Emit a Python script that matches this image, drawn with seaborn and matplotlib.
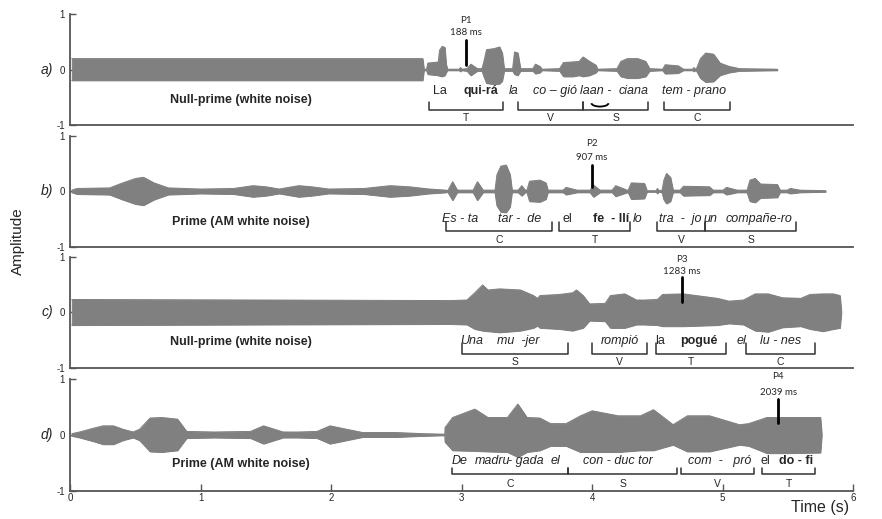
import matplotlib.pyplot as plt
import seaborn as sns
import pandas as pd
from matplotlib.patches import Arc

a_time = [0.01, 2.70, 2.71, 2.73, 2.74, 2.82, 2.83, 2.85, 2.87, 2.88, 2.89, 2.98, 2.99, 3.00,
          3.04, 3.07, 3.12, 3.155, 3.17, 3.19, 3.25, 3.29, 3.31, 3.325, 3.39, 3.405, 3.43, 3.45,
          3.545, 3.565, 3.60, 3.615, 3.75, 3.78, 3.85, 3.90, 3.93, 3.98, 4.03, 4.04,
          4.19, 4.22, 4.27, 4.35, 4.41, 4.44, 4.54, 4.56, 4.66, 4.70, 4.77, 4.78, 4.79,
          4.80, 4.83, 4.87, 4.93, 4.98, 5.05, 5.13, 5.42]
a_upper = [0.20, 0.20, 0.01, 0.01, 0.12, 0.14, 0.35, 0.42, 0.40, 0.10, 0.01, 0.01, 0.04, 0.01,
           0.02, 0.10, 0.02, 0.02, 0.15, 0.36, 0.38, 0.41, 0.30, 0.02, 0.02, 0.32, 0.30, 0.02,
           0.02, 0.10, 0.06, 0.01, 0.02, 0.13, 0.14, 0.15, 0.23, 0.15, 0.08, 0.01,
           0.02, 0.15, 0.20, 0.20, 0.15, 0.02, 0.01, 0.09, 0.07, 0.01, 0.01, 0.04, 0.01,
           0.02, 0.20, 0.30, 0.28, 0.12, 0.06, 0.02, 0.01]
a_lower = [-0.19, -0.19, -0.01, -0.01, -0.08, -0.10, -0.11, -0.12, -0.10, -0.05, -0.01, -0.01, -0.03, -0.01,
           -0.02, -0.10, -0.02, -0.02, -0.12, -0.24, -0.26, -0.25, -0.20, -0.02, -0.02, -0.08, -0.10, -0.02,
           -0.02, -0.07, -0.05, -0.01, -0.02, -0.12, -0.12, -0.10, -0.12, -0.10, -0.05, -0.01,
           -0.02, -0.12, -0.15, -0.15, -0.12, -0.02, -0.01, -0.07, -0.06, -0.01, -0.01, -0.03, -0.01,
           -0.02, -0.15, -0.22, -0.21, -0.10, -0.05, -0.02, -0.01]

b_time = [0.01, 0.05, 0.30, 0.40, 0.50, 0.56, 0.64, 0.75, 1.00, 1.25, 1.40, 1.50, 1.60, 1.75,
          1.85, 1.98, 2.25, 2.45, 2.60, 2.75, 2.88, 2.89,
          2.895, 2.93, 2.965, 3.087, 3.12, 3.163, 3.255, 3.27, 3.30, 3.34, 3.37, 3.385,
          3.432, 3.46, 3.486, 3.50, 3.52, 3.60, 3.645, 3.66, 3.777, 3.80, 3.884,
          3.984, 4.01, 4.06, 4.153, 4.18, 4.268, 4.276, 4.30, 4.40, 4.42, 4.49, 4.50, 4.51,
          4.536, 4.55, 4.57, 4.60, 4.62, 4.674, 4.70, 4.90, 4.927, 5.004, 5.03, 5.111,
          5.188, 5.21, 5.25, 5.29, 5.42, 5.44, 5.494, 5.52, 5.594, 5.79]
b_upper = [0.02, 0.05, 0.06, 0.15, 0.23, 0.25, 0.15, 0.06, 0.04, 0.05, 0.10, 0.08, 0.04, 0.10,
           0.08, 0.04, 0.05, 0.10, 0.08, 0.04, 0.02, 0.01,
           0.02, 0.17, 0.02, 0.02, 0.17, 0.02, 0.02, 0.30, 0.45, 0.47, 0.30, 0.02,
           0.02, 0.10, 0.02, 0.02, 0.18, 0.20, 0.15, 0.02, 0.02, 0.07, 0.02,
           0.02, 0.11, 0.02, 0.02, 0.10, 0.02, 0.02, 0.15, 0.14, 0.01, 0.01, 0.05, 0.01,
           0.02, 0.20, 0.32, 0.25, 0.02, 0.02, 0.09, 0.08, 0.02, 0.02, 0.07, 0.02,
           0.02, 0.20, 0.23, 0.13, 0.12, 0.02, 0.02, 0.05, 0.02, 0.01]
b_lower = [-0.02, -0.05, -0.06, -0.15, -0.23, -0.25, -0.15, -0.06, -0.04, -0.05, -0.10, -0.08, -0.04, -0.10,
           -0.08, -0.04, -0.05, -0.10, -0.08, -0.04, -0.02, -0.01,
           -0.02, -0.16, -0.02, -0.02, -0.16, -0.02, -0.02, -0.26, -0.37, -0.38, -0.28, -0.02,
           -0.02, -0.08, -0.02, -0.02, -0.18, -0.19, -0.14, -0.02, -0.02, -0.06, -0.02,
           -0.02, -0.10, -0.02, -0.02, -0.09, -0.02, -0.02, -0.14, -0.13, -0.01, -0.01, -0.04, -0.01,
           -0.02, -0.15, -0.22, -0.18, -0.02, -0.02, -0.08, -0.07, -0.02, -0.02, -0.06, -0.02,
           -0.02, -0.18, -0.20, -0.12, -0.11, -0.02, -0.02, -0.04, -0.02, -0.01]

c_time = [0.01, 2.91, 3.04, 3.10, 3.16, 3.20, 3.29, 3.45, 3.55, 3.58, 3.60, 3.75, 3.85, 3.88, 3.93,
          3.98, 4.10, 4.14, 4.25, 4.34, 4.40, 4.50, 4.54, 4.70, 4.96, 5.05, 5.16, 5.25, 5.35, 5.46,
          5.60, 5.67, 5.77, 5.85, 5.90, 5.91]
c_upper = [0.23, 0.21, 0.22, 0.35, 0.49, 0.40, 0.42, 0.40, 0.30, 0.25, 0.30, 0.32, 0.35, 0.40, 0.30,
           0.15, 0.16, 0.30, 0.33, 0.22, 0.22, 0.23, 0.32, 0.33, 0.25, 0.20, 0.22, 0.33, 0.33, 0.26,
           0.25, 0.32, 0.33, 0.33, 0.30, 0.02]
c_lower = [-0.23, -0.21, -0.22, -0.30, -0.33, -0.34, -0.36, -0.33, -0.28, -0.24, -0.28, -0.30, -0.33, -0.31, -0.28,
           -0.15, -0.16, -0.28, -0.28, -0.22, -0.22, -0.23, -0.25, -0.25, -0.23, -0.20, -0.22, -0.33, -0.35, -0.27,
           -0.25, -0.30, -0.34, -0.30, -0.28, -0.02]

d_time = [0.01, 0.07, 0.18, 0.25, 0.33, 0.40, 0.48, 0.53, 0.61, 0.70, 0.82, 0.89, 1.10, 1.38, 1.48,
          1.63, 1.75, 1.89, 1.99, 2.24, 2.50, 2.70, 2.87,
          2.872, 2.93, 3.10, 3.20, 3.35, 3.43, 3.50, 3.60, 3.68, 3.80, 3.91, 4.00, 4.20, 4.37,
          4.47, 4.62, 4.73, 4.90, 5.13, 5.20, 5.34, 5.50, 5.75, 5.76]
d_upper = [0.02, 0.05, 0.12, 0.16, 0.16, 0.10, 0.05, 0.10, 0.30, 0.31, 0.28, 0.06, 0.05, 0.06, 0.16,
           0.05, 0.05, 0.06, 0.16, 0.04, 0.04, 0.02, 0.01,
           0.13, 0.31, 0.46, 0.31, 0.31, 0.55, 0.31, 0.30, 0.20, 0.20, 0.34, 0.43, 0.34, 0.34,
           0.45, 0.18, 0.34, 0.34, 0.18, 0.20, 0.31, 0.31, 0.31, 0.02]
d_lower = [-0.02, -0.05, -0.12, -0.17, -0.17, -0.10, -0.05, -0.10, -0.30, -0.31, -0.28, -0.06, -0.05, -0.06, -0.16,
           -0.05, -0.05, -0.06, -0.16, -0.04, -0.04, -0.02, -0.01,
           -0.13, -0.28, -0.29, -0.30, -0.31, -0.40, -0.31, -0.28, -0.20, -0.20, -0.31, -0.31, -0.31, -0.28,
           -0.28, -0.18, -0.30, -0.30, -0.18, -0.20, -0.33, -0.33, -0.32, -0.02]

panel_names = ['a)', 'b)', 'c)', 'd)']
prime_labels = ['Null-prime (white noise)', 'Prime (AM white noise)',
                'Null-prime (white noise)', 'Prime (AM white noise)']
probe_names = ['P1', 'P2', 'P3', 'P4']
probe_ms = ['188 ms', '907 ms', '1283 ms', '2039 ms']
probe_time = [3.033, 4.00, 4.689, 5.426]

# palabras: (texto, tiempo, estilo)
a_words = [('La', 2.833, 'n'), ('qui-rá', 3.148, 'b'), ('la', 3.401, 'i'), ('co – gió', 3.715, 'i'),
           ('laan -', 4.03, 'i'), ('ciana', 4.314, 'i'), ('tem - prano', 4.781, 'i')]
b_words = [('Es - ta', 2.987, 'i'), ('tar -  de', 3.447, 'i'), ('el', 3.808, 'n'), ('fe  - llí', 4.145, 'b'),
           ('lo', 4.352, 'i'), ('tra  -  jo', 4.674, 'i'), ('un', 4.904, 'i'), ('compañe-ro', 5.28, 'i')]
c_words = [('Una', 3.079, 'i'), ('mu  -jer', 3.432, 'i'), ('rompió', 4.214, 'i'), ('la', 4.52, 'n'),
           ('pogué', 4.82, 'b'), ('el', 5.142, 'i'), ('lu - nes', 5.441, 'i')]
d_words = [('De', 2.987, 'i'), ('madru', 3.24, 'i'), ('- gada', 3.49, 'i'), ('el', 3.72, 'i'),
           ('con - duc tor', 4.199, 'i'), ('com  -   pró', 4.981, 'i'), ('el', 5.326, 'n'), ('do - fi', 5.564, 'b')]

# constituyentes: (letra, inicio, fin)
a_groups = [('T', 2.749, 3.317), ('V', 3.432, 3.93), ('S', 3.93, 4.429), ('C', 4.551, 5.057)]
b_groups = [('C', 2.879, 3.692), ('T', 3.746, 4.291), ('V', 4.498, 4.866), ('S', 4.866, 5.564)]
c_groups = [('S', 3.002, 3.815), ('V', 4.0, 4.421), ('T', 4.49, 5.027), ('C', 5.18, 5.709)]
d_groups = [('C', 2.926, 3.815), ('S', 3.815, 4.651), ('V', 4.682, 5.241), ('T', 5.303, 5.709)]

# posiciones verticales de los textos en cada panel (amplitud)
word_y = [-0.375, -0.50, -0.51, -0.47]
bracket_y = [(-0.714, -0.571), (-0.72, -0.56), (-0.74, -0.56), (-0.70, -0.59)]
letter_y = [-0.857, -0.88, -0.90, -0.875]
probe_y = [(0.875, 0.66, 0.54, 0.09), (0.85, 0.60, 0.47, 0.07),
           (0.94, 0.74, 0.63, 0.18), (1.05, 0.75, 0.64, 0.21)]
prime_y = [-0.54, -0.56, -0.54, -0.52]

sns.set_theme(style='ticks')
plt.rcParams['font.family'] = ['Liberation Sans', 'DejaVu Sans']

wave_color = '#808080'
axis_color = '#555555'

fig = plt.figure(figsize=(8.82, 5.19), dpi=100)
bottoms = [0.7582, 0.5241, 0.2909, 0.0549]
envelopes = [(a_time, a_upper, a_lower), (b_time, b_upper, b_lower),
             (c_time, c_upper, c_lower), (d_time, d_upper, d_lower)]
words = [a_words, b_words, c_words, d_words]
groups = [a_groups, b_groups, c_groups, d_groups]

for i in range(4):
    ax = fig.add_axes([0.0799, bottoms[i], 0.8872, 0.2148])
    t, up, lo = envelopes[i]
    df = pd.DataFrame({'t': t, 'up': up, 'lo': lo})
    ax.fill_between(df['t'], df['lo'], df['up'], color=wave_color, lw=0.7, zorder=3)
    sns.lineplot(x='t', y='up', data=df, ax=ax, color=wave_color, lw=0.7, zorder=3)
    sns.lineplot(x='t', y='lo', data=df, ax=ax, color=wave_color, lw=0.7, zorder=3)

    ax.set_xlim(0, 6)
    ax.set_ylim(-1, 1)
    ax.set_xlabel('')
    ax.set_ylabel('')
    for s in ['top', 'right']:
        ax.spines[s].set_visible(False)
    for s in ['left', 'bottom']:
        ax.spines[s].set_color(axis_color)
        ax.spines[s].set_linewidth(1.3)
    ax.set_yticks([-1, 0, 1])
    ax.set_yticklabels(['-1', '0', '1'])
    ax.tick_params(axis='y', direction='in', length=4, width=1, color=axis_color,
                   labelsize=7, pad=4)
    if i < 3:
        ax.tick_params(axis='x', bottom=False, labelbottom=False)
    else:
        ax.set_xticks(range(7))
        ax.tick_params(axis='x', direction='in', length=5, width=1, color=axis_color,
                       labelsize=7, pad=2)

    ax.text(-0.18, 0, panel_names[i], ha='center', va='center', fontsize=10, style='italic')
    ax.text(1.31, prime_y[i], prime_labels[i], ha='center', va='center', fontsize=9,
            fontweight='bold')

    # marca de la sonda
    py = probe_y[i]
    ax.text(probe_time[i], py[0], probe_names[i], ha='center', va='center', fontsize=7,
            family=['Lato', 'DejaVu Sans'], clip_on=False)
    ax.text(probe_time[i], py[1], probe_ms[i], ha='center', va='center', fontsize=7,
            family=['Lato', 'DejaVu Sans'], clip_on=False)
    ax.plot([probe_time[i], probe_time[i]], [py[3], py[2]], color='black', lw=2, zorder=4)

    for txt, x, st in words[i]:
        kw = {'n': {}, 'b': {'fontweight': 'bold'}, 'i': {'style': 'italic'}}[st]
        ax.text(x, word_y[i], txt, ha='center', va='center', fontsize=9, zorder=5, **kw)

    yb, ytop = bracket_y[i]
    for letter, x0, x1 in groups[i]:
        ax.plot([x0, x0, x1, x1], [ytop, yb, yb, ytop], color='#333333', lw=1.1, zorder=4)
        ax.text((x0 + x1) / 2, letter_y[i], letter, ha='center', va='center', fontsize=7.5)

    if i == 0:
        ax.add_patch(Arc((4.06, -0.60), 0.13, 0.12, theta1=180, theta2=360,
                         color='black', lw=1.3))

fig.text(0.02, 0.536, 'Amplitude', rotation=90, ha='center', va='center', fontsize=11)
fig.text(0.93, 0.023, 'Time (s)', ha='center', va='center', fontsize=11.5)

fig.savefig('out.png', dpi=100)
